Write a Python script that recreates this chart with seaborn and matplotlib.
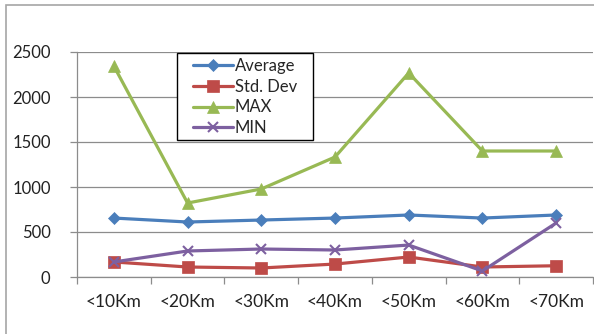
import matplotlib
matplotlib.use("Agg")
import matplotlib.pyplot as plt
from matplotlib.patches import Rectangle
from matplotlib.ticker import FixedLocator
import numpy as np
import pandas as pd
import seaborn as sns

categories = ["<10Km", "<20Km", "<30Km", "<40Km", "<50Km", "<60Km", "<70Km"]
average = [655, 611, 633, 655, 689, 655, 689]
std_dev = [167, 111, 100, 144, 222, 111, 125]
max_vals = [2344, 822, 978, 1333, 2267, 1400, 1400]
min_vals = [167, 289, 311, 300, 355, 67, 600]

series_names = ["Average", "Std. Dev", "MAX", "MIN"]
series_values = [average, std_dev, max_vals, min_vals]
colors = ["#4A7EBB", "#BE4B48", "#98B954", "#7D60A0"]
markers = ["D", "s", "^", "x"]
marker_sizes = [6, 9, 8, 7]

sns.set_theme(style="white")
plt.rcParams["font.family"] = ["Lato", "DejaVu Sans"]

W, H = 594, 334
fig = plt.figure(figsize=(W / 100, H / 100), dpi=100)
ax = fig.add_axes([77 / W, 1 - 277 / H, (593 - 77) / W, (277 - 52) / H])

# outer chart frame
fig.patches.append(Rectangle((6 / W, -0.1), 2, 1 - 5 / H + 0.1,
                             transform=fig.transFigure, fill=False,
                             edgecolor="#A6A6A6", linewidth=1.2))

x = np.arange(len(categories))
for name, vals, c, m, ms in zip(series_names, series_values, colors, markers, marker_sizes):
    df = pd.DataFrame({"x": x, "y": vals})
    sns.lineplot(data=df, x="x", y="y", ax=ax, color=c, linewidth=2.3,
                 marker=m, markersize=ms, markeredgecolor=c,
                 markeredgewidth=1.5 if m == "x" else 0.5, label=name)

ax.set_xlim(-0.5, len(categories) - 0.5)
ax.set_ylim(0, 2500)
ax.set_yticks([0, 500, 1000, 1500, 2000, 2500])
ax.yaxis.grid(True, color="#8C8C8C", linewidth=0.9)
ax.xaxis.grid(False)
ax.set_xticks(x)
ax.set_xticklabels(categories)
ax.xaxis.set_minor_locator(FixedLocator(np.arange(-0.5, len(categories), 1.0)))
ax.tick_params(axis="x", which="major", length=0, pad=12, labelsize=12.5, colors="#222222")
ax.tick_params(axis="x", which="minor", bottom=True, length=5, width=0.9, color="#8C8C8C")
ax.tick_params(axis="y", which="major", left=True, length=5, width=0.9, color="#8C8C8C",
               pad=14, labelsize=12, labelcolor="#222222")
ax.set_xlabel("")
ax.set_ylabel("")
for side in ["top", "right"]:
    ax.spines[side].set_visible(False)
for side in ["left", "bottom"]:
    ax.spines[side].set_color("#8C8C8C")
    ax.spines[side].set_linewidth(0.9)

# legend box drawn as its own rectangle, entries placed inside it
handles, labels = ax.get_legend_handles_labels()
ax.get_legend().remove()
box_l, box_t, box_r, box_b = 177, 53, 313, 140
fig.patches.append(Rectangle((box_l / W, 1 - box_b / H), (box_r - box_l) / W,
                             (box_b - box_t) / H, transform=fig.transFigure,
                             facecolor="white", edgecolor="black", linewidth=1.0,
                             zorder=5))
leg = fig.legend(handles, labels, loc="upper left",
                 bbox_to_anchor=(193 / W, 1 - 58 / H),
                 frameon=False, fontsize=12,
                 handlelength=2.4, handletextpad=0.1, borderpad=0.0,
                 labelspacing=0.28, borderaxespad=0.0)
leg.set_zorder(6)

fig.savefig("out.png", dpi=100)
